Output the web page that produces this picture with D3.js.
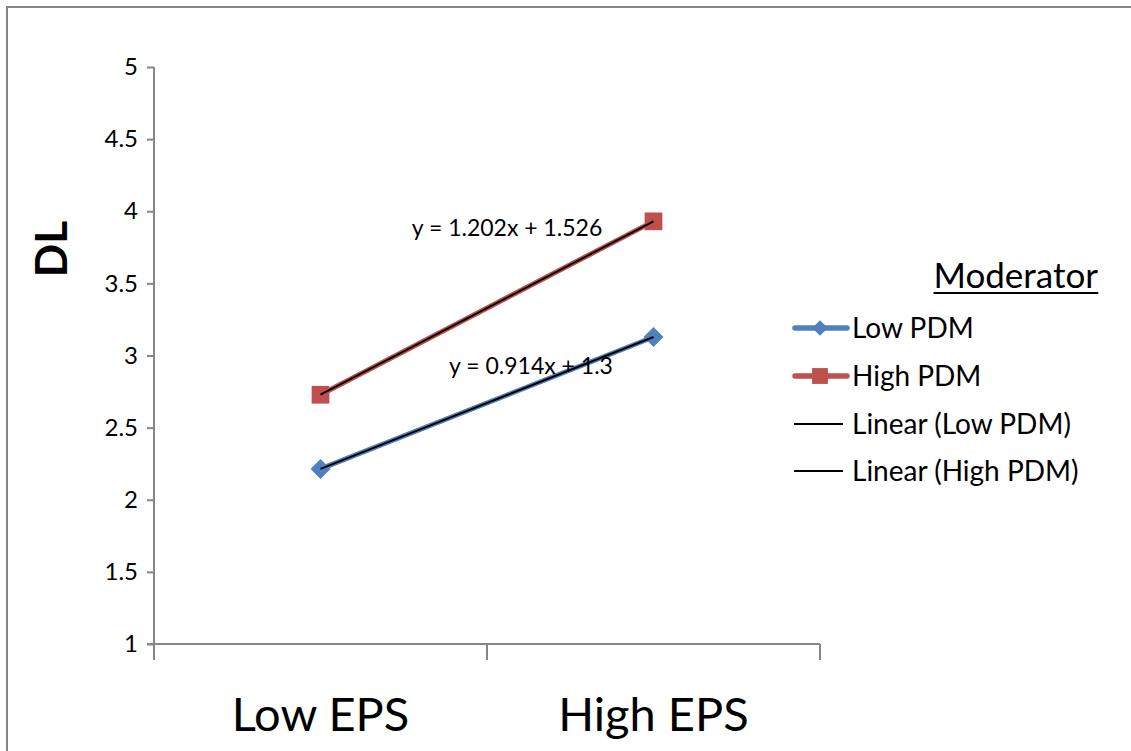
<!DOCTYPE html>
<html><head><meta charset="utf-8">
<script src="https://cdn.jsdelivr.net/npm/d3@7"></script>
<style>body{margin:0;background:#fff;overflow:hidden}svg{display:block}</style>
</head><body>
<svg id="c" width="1131" height="751"></svg>
<script>
const categories = ["Low EPS", "High EPS"];
const lowPDM = [2.214, 3.128];
const highPDM = [2.728, 3.930];
const yTicks = [1, 1.5, 2, 2.5, 3, 3.5, 4, 4.5, 5];
const seriesNames = ["Low PDM", "High PDM", "Linear (Low PDM)", "Linear (High PDM)"];
const equations = ["y = 0.914x + 1.3", "y = 1.202x + 1.526"];

const font = "Lato, 'Open Sans', sans-serif";
const svg = d3.select("#c");
// outer chart border (only left and top edges visible in the frame)
svg.append("path").attr("d", "M7,760V7H1140").attr("fill", "none")
  .attr("stroke", "#868686").attr("stroke-width", 2);

const x0 = 154, x1 = 820, yTop = 67, yBot = 644;
const x = d3.scaleBand().domain(categories).range([x0, x1]);
const y = d3.scaleLinear().domain([1, 5]).range([yBot, yTop]);
const cx = c => x(c) + x.bandwidth() / 2;

// y axis
const yAxis = svg.append("g").attr("transform", `translate(${x0},0)`)
  .call(d3.axisLeft(y).tickValues(yTicks).tickSize(7).tickPadding(9).tickFormat(d3.format("")));
yAxis.selectAll("path,line").attr("stroke", "#868686").attr("stroke-width", 2);
yAxis.select("path").attr("d", `M0,${yTop}H0V${yBot}`);
yAxis.selectAll("text").attr("font-family", font).attr("font-size", 24).attr("fill", "#000");

// x axis
const xAxis = svg.append("g").attr("transform", `translate(0,${yBot})`)
  .call(d3.axisBottom(x).tickSize(0).tickFormat(""));
xAxis.select("path").attr("d", `M${x0 - 7},0H${x1}`).attr("stroke", "#868686").attr("stroke-width", 2);
xAxis.selectAll(".tick").remove();
const bounds = [x0, x0 + x.bandwidth(), x1];
xAxis.selectAll("line.b").data(bounds).enter().append("line")
  .attr("x1", d => d).attr("x2", d => d).attr("y1", 0).attr("y2", 16)
  .attr("stroke", "#868686").attr("stroke-width", 2);
svg.selectAll("text.cat").data(categories).enter().append("text")
  .attr("x", d => cx(d)).attr("y", 731).attr("text-anchor", "middle")
  .attr("font-family", font).attr("font-size", 47).text(d => d);

// y axis title
svg.append("text").attr("transform", "translate(67,249) rotate(-90)")
  .attr("text-anchor", "middle").attr("font-family", font).attr("font-weight", "bold")
  .attr("font-size", 44).text("DL");

const line = d3.line().x((d, i) => cx(categories[i])).y(d => y(d));
const series = [
  {name: seriesNames[0], vals: lowPDM, color: "#4F81BD", sym: d3.symbolDiamond2, size: 255, legSize: 150},
  {name: seriesNames[1], vals: highPDM, color: "#C0504D", sym: d3.symbolSquare2, size: 400, legSize: 320}
];
series.forEach(s => {
  svg.append("path").datum(s.vals).attr("d", line).attr("fill", "none")
    .attr("stroke", s.color).attr("stroke-width", 5);
  svg.selectAll(null).data(s.vals).enter().append("path")
    .attr("transform", (d, i) => `translate(${cx(categories[i])},${y(d)})`)
    .attr("d", d3.symbol().type(s.sym).size(s.size))
    .attr("fill", s.color);
});
// trend lines
series.forEach(s => {
  svg.append("path").datum(s.vals).attr("d", line).attr("fill", "none")
    .attr("stroke", "#000").attr("stroke-width", 2);
});
// equations
svg.append("text").attr("x", 531).attr("y", 374).attr("text-anchor", "middle")
  .attr("font-family", font).attr("font-size", 23).text(equations[0]);
svg.append("text").attr("x", 507).attr("y", 236).attr("text-anchor", "middle")
  .attr("font-family", font).attr("font-size", 23).text(equations[1]);

// legend
const mod = svg.append("text").attr("x", 1098).attr("y", 288).attr("text-anchor", "end")
  .attr("font-family", font).attr("font-size", 35).text("Moderator");
const mb = mod.node().getBBox();
svg.append("line").attr("x1", mb.x).attr("x2", mb.x + mb.width).attr("y1", 293).attr("y2", 293)
  .attr("stroke", "#000").attr("stroke-width", 2);
const legY = [328, 376, 424, 471];
seriesNames.forEach((n, i) => {
  const g = svg.append("g").attr("transform", `translate(0,${legY[i]})`);
  if (i < 2) {
    const s = series[i];
    g.append("line").attr("x1", 795).attr("x2", 847).attr("y1", 0).attr("y2", 0)
      .attr("stroke", s.color).attr("stroke-width", 5.5).attr("stroke-linecap", "round");
    g.append("path").attr("transform", "translate(820,0)")
      .attr("d", d3.symbol().type(s.sym).size(s.legSize))
      .attr("fill", s.color);
  } else {
    g.append("line").attr("x1", 794).attr("x2", 843).attr("y1", 0).attr("y2", 0)
      .attr("stroke", "#000").attr("stroke-width", 2);
  }
  g.append("text").attr("x", 852).attr("y", 10).attr("font-family", font)
    .attr("font-size", 28).text(n);
});
</script>
</body></html>
